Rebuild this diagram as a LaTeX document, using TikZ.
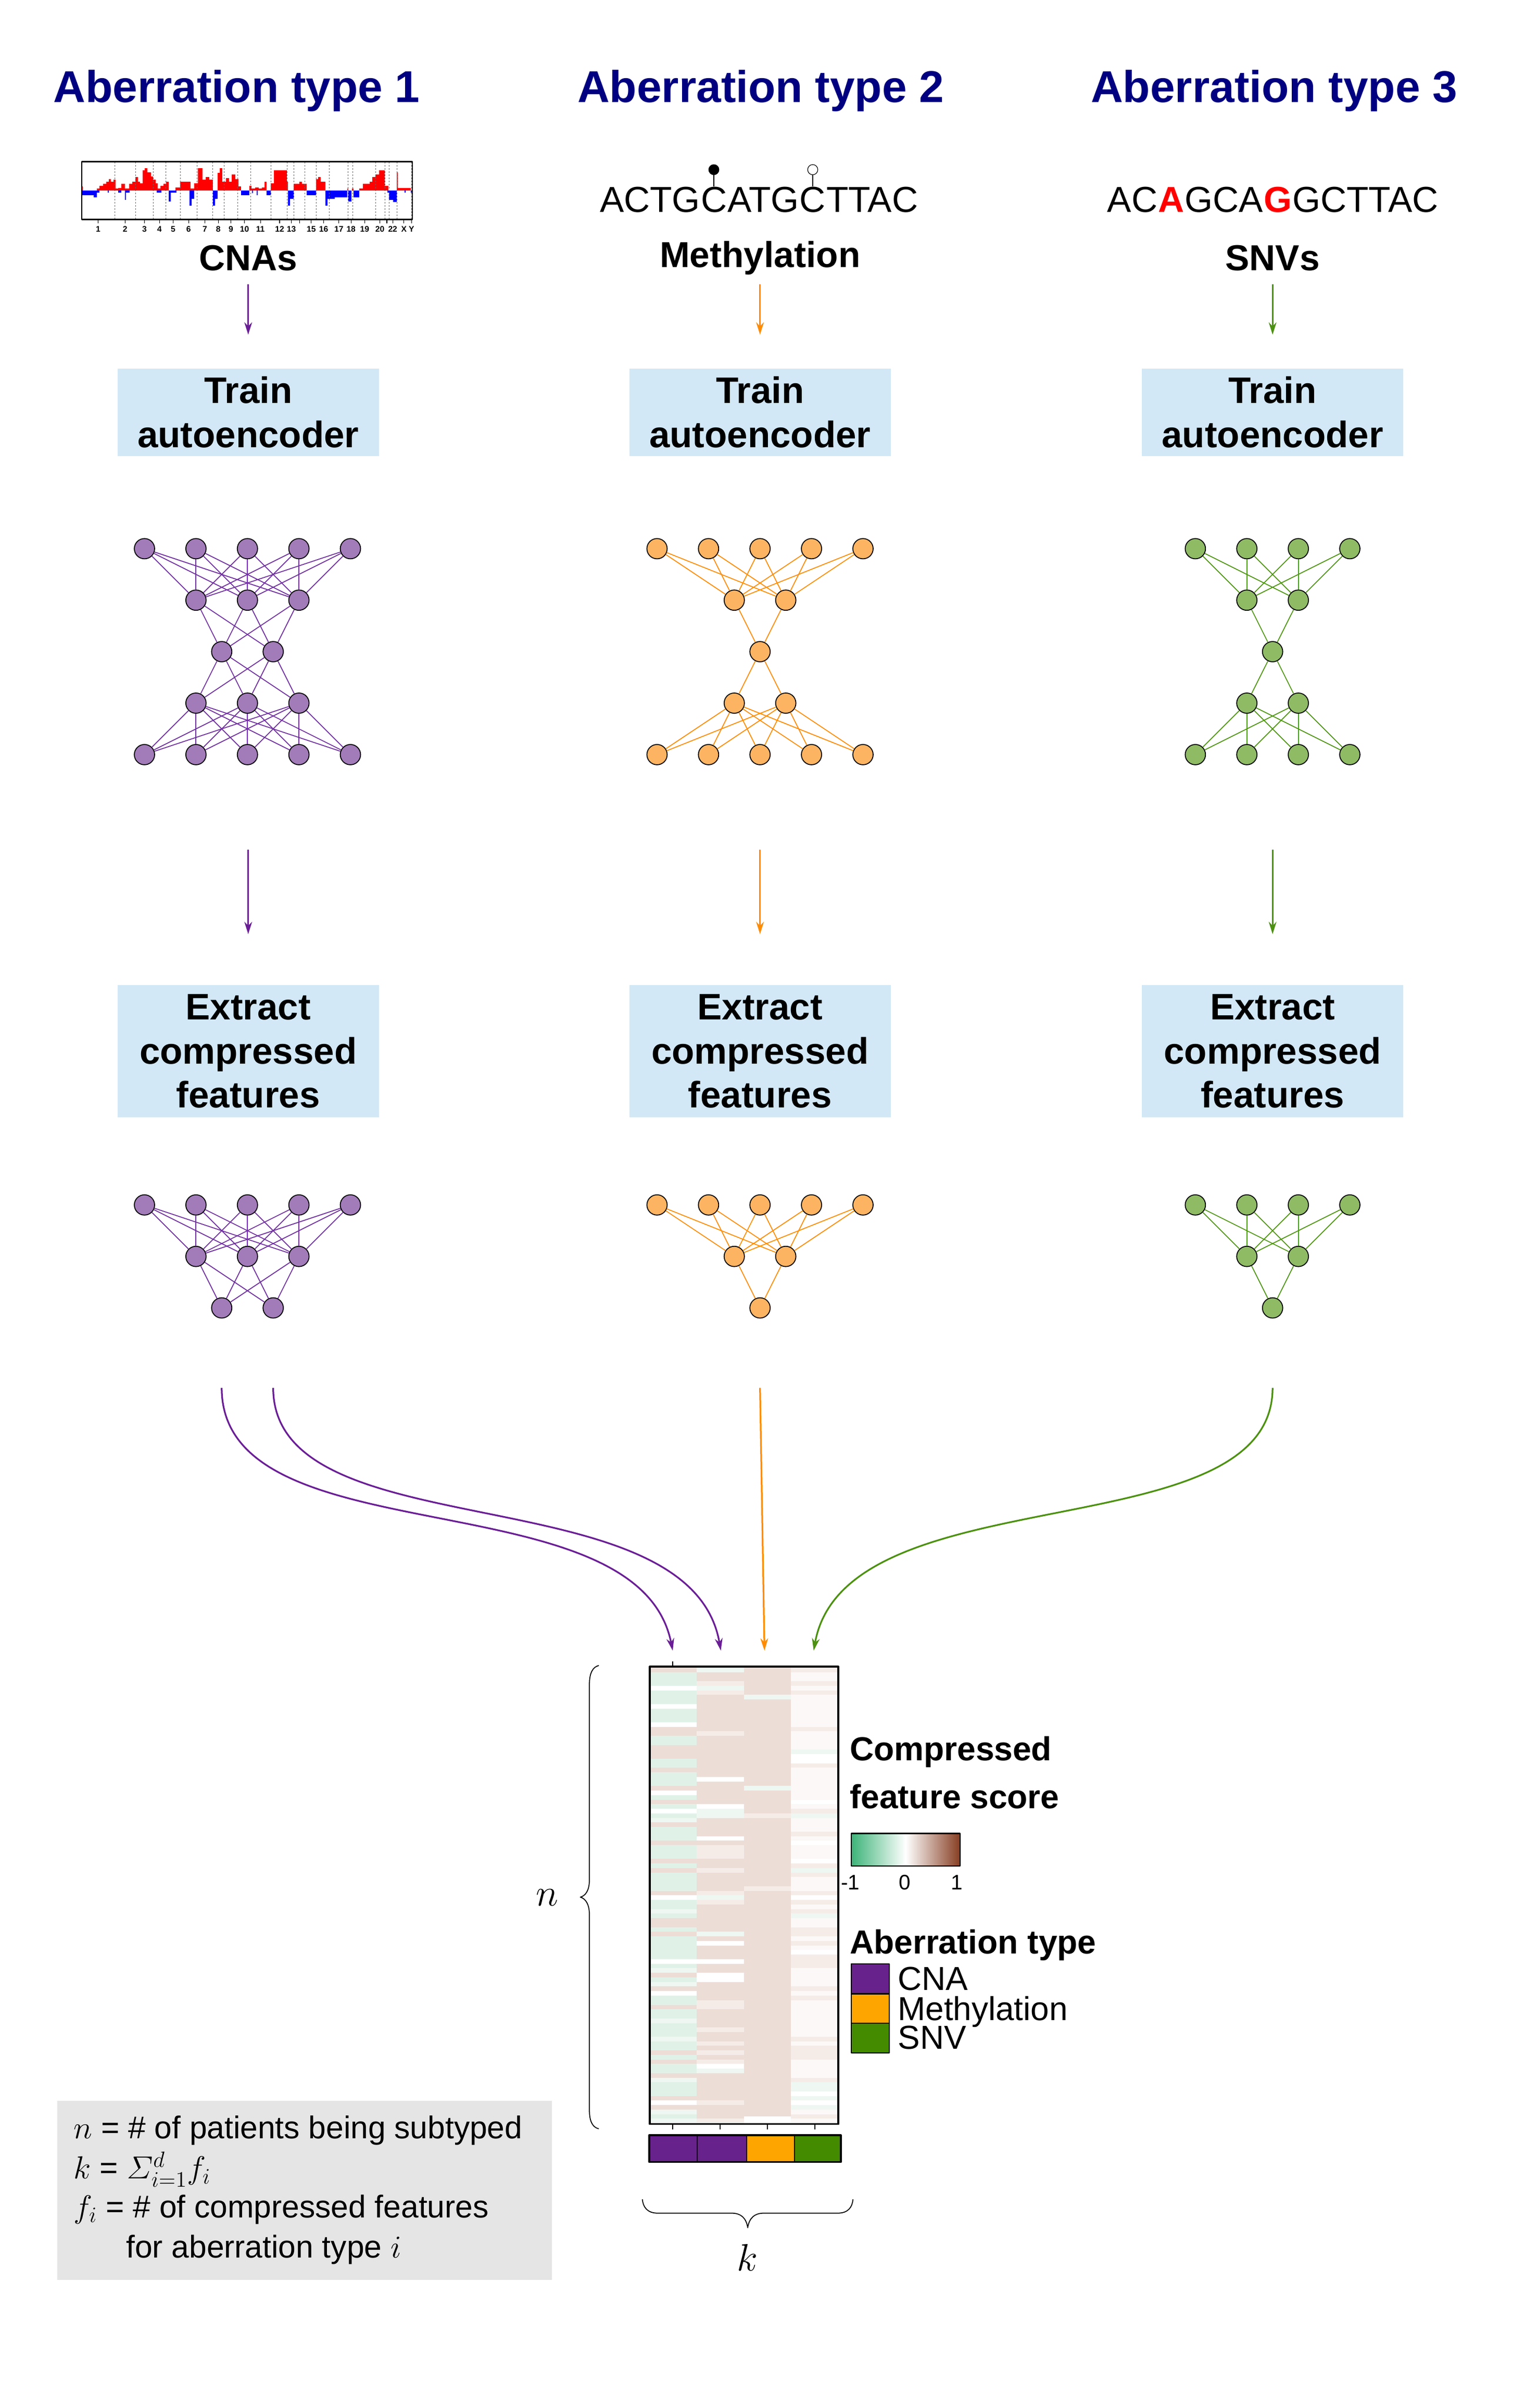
\documentclass[tikz,border=0pt]{standalone}
\usepackage{amsmath}
\usepackage{fontspec}
\setmainfont{Liberation Sans}
\usetikzlibrary{arrows.meta}

\definecolor{ttl}{RGB}{0,0,128}
\definecolor{boxblue}{RGB}{210,232,246}
\definecolor{pfill}{RGB}{162,123,185}
\definecolor{ofill}{RGB}{253,180,98}
\definecolor{gfill}{RGB}{143,187,101}
\definecolor{pedge}{RGB}{112,48,160}
\definecolor{oedge}{RGB}{255,140,0}
\definecolor{gedge}{RGB}{78,150,18}
\definecolor{arP}{RGB}{106,30,150}
\definecolor{arO}{RGB}{255,140,0}
\definecolor{arG}{RGB}{76,145,17}
\definecolor{cpur}{RGB}{104,34,139}
\definecolor{corg}{RGB}{255,165,0}
\definecolor{cgrn}{RGB}{69,139,0}
\definecolor{hc0}{RGB}{224,242,232}
\definecolor{hc1}{RGB}{237,221,215}
\definecolor{hc2}{RGB}{255,255,255}
\definecolor{hc3}{RGB}{239,247,242}
\definecolor{hc4}{RGB}{245,236,232}
\definecolor{hc5}{RGB}{251,248,247}
\definecolor{cbg}{RGB}{60,179,120}
\definecolor{cbb}{RGB}{135,62,35}
\definecolor{graybox}{RGB}{229,229,229}
\definecolor{cnared}{RGB}{255,0,0}
\definecolor{cnablue}{RGB}{0,0,255}

\tikzset{
  ttlnode/.style={font=\fontsize{29}{34}\selectfont\bfseries, text=ttl, inner sep=0pt, anchor=base},
  lblnode/.style={font=\fontsize{23.5}{28}\selectfont\bfseries, inner sep=0pt, anchor=base},
  seqnode/.style={font=\fontsize{23.5}{28}\selectfont, inner sep=0pt, anchor=base west},
  seqred/.style={seqnode, font=\fontsize{23.5}{28}\selectfont\bfseries, text=red},
  stepbox/.style={fill=boxblue, minimum width=170pt, inner sep=0pt, align=center,
    font=\fontsize{24}{28.6}\selectfont\bfseries},
  nodeP/.style={circle, draw=black, line width=0.6pt, fill=pfill, minimum size=13.2pt, inner sep=0pt},
  nodeO/.style={circle, draw=black, line width=0.6pt, fill=ofill, minimum size=13.2pt, inner sep=0pt},
  nodeG/.style={circle, draw=black, line width=0.6pt, fill=gfill, minimum size=13.2pt, inner sep=0pt},
  edgeP/.style={draw=pedge, line width=0.6pt},
  edgeO/.style={draw=oedge, line width=0.6pt},
  edgeG/.style={draw=gedge, line width=0.6pt},
  arrw/.style={-{Stealth[length=8pt,width=5pt,inset=2.5pt]}, line width=1.1pt},
  fdot/.style={circle, fill=black, draw=black, minimum size=6.6pt, inner sep=0pt, line width=0.4pt},
  odot/.style={circle, fill=white, draw=black, minimum size=6.6pt, inner sep=0pt, line width=0.4pt},
  chrlbl/.style={font=\fontsize{5.3}{6}\selectfont\bfseries, inner sep=0pt, anchor=base},
  legb/.style={font=\fontsize{21.7}{26}\selectfont\bfseries, inner sep=0pt, anchor=base west},
  legr/.style={font=\fontsize{21.6}{26}\selectfont, inner sep=0pt, anchor=base west},
  legs/.style={font=\fontsize{13.7}{16}\selectfont, inner sep=0pt, anchor=base},
  boxtxt/.style={font=\fontsize{20.5}{25}\selectfont, inner sep=0pt, anchor=base west},
  mathlbl/.style={font=\fontsize{29}{34}\selectfont, inner sep=0pt, anchor=base},
  thinline/.style={line width=0.6pt},
}

\newcommand{\netlayer}[6]{%
  \foreach \i in {1,...,#3}{%
    \node[#6] (#1-#2-\i) at ({#4+(\i-(#3+1)/2)*33.5},#5) {};
  }%
}
\newcommand{\netlink}[6]{%
  \foreach \i in {1,...,#3}{\foreach \j in {1,...,#5}{\draw[#6] (#1-#2-\i) -- (#1-#4-\j);}}%
}

\begin{document}
\begin{tikzpicture}[x=1pt, y=-1pt, line join=round]
\useasboundingbox (0,0) rectangle (1000,1566.8);

% ---------- titles ----------
\node[ttlnode] (t1) at (154,66.7) {Aberration type 1};
\node[ttlnode] (t2) at (495,66.7) {Aberration type 2};
\node[ttlnode] (t3) at (829,66.7) {Aberration type 3};

% ---------- CNA plot ----------
\begin{scope}[shift={(44.06,95.55)}, xscale=0.15234, yscale=0.1129]
  \foreach \a/\b/\c in {60/65/228, 125/135/240, 135/150/225, 150/165/212, 165/175/200, 175/185/187,
    185/195/200, 195/205/188, 205/215/240, 215/230/238, 230/245/212, 245/262/240, 262/275/212,
    275/290/200, 290/300/175, 300/310/200, 310/320/210, 320/330/135, 330/340/122, 340/355/148,
    355/365/170, 365/375/190, 375/385/210, 385/395/240, 395/410/225, 410/420/212, 420/432/200,
    460/480/235, 480/525/200, 525/540/240, 540/555/210, 555/575/122, 575/590/190, 590/605/175,
    605/620/190, 640/650/150, 650/660/122, 660/675/200, 675/690/180, 690/700/200, 700/715/160,
    715/730/185, 730/740/228, 775/785/225, 785/800/240, 800/815/235, 815/830/240, 830/840/235,
    840/850/200, 868/880/210, 880/935/135, 935/940/200, 965/990/212, 990/1000/200, 1000/1020/212,
    1061/1070/185, 1070/1080/175, 1080/1100/200, 1193/1198/240, 1215/1220/240, 1245/1260/240,
    1260/1290/212, 1290/1300/200, 1300/1315/175, 1315/1330/160, 1330/1355/135, 1355/1370/225,
    1405/1410/148, 1410/1465/238}
    {\fill[cnared] (\a,252) rectangle (\b,\c);}
  \foreach \a/\b/\c in {60/110/280, 110/125/292, 125/135/265, 170/175/265, 215/230/265, 245/250/305,
    250/265/265, 380/400/265, 432/440/315, 440/465/265, 520/530/340, 530/540/300, 620/630/340,
    630/640/300, 740/775/278, 788/792/268, 808/812/280, 850/868/278, 940/950/340, 950/965/300,
    1020/1061/278, 1100/1110/340, 1110/1140/300, 1140/1195/290, 1198/1212/315, 1220/1245/290,
    1365/1372/265, 1372/1390/305, 1390/1405/318, 1438/1442/265, 1465/1472/265}
    {\fill[cnablue] (\a,252) rectangle (\b,\c);}
  \foreach \s in {202, 290, 366, 418, 481, 552, 620, 669, 726, 781, 868, 938, 965, 1013, 1061,
    1118, 1198, 1218, 1316, 1354, 1372, 1406, 1468}
    {\draw[black!60, dash pattern=on 1pt off 1pt, line width=0.3pt] (\s,88) -- (\s,418);}
  \draw[line width=0.8pt] (60,85) rectangle (1472,418);
  \foreach \t in {130, 245, 328, 392, 450, 516, 586, 643, 697, 755, 823, 905, 955, 990, 1040,
    1093, 1158, 1210, 1268, 1333, 1363, 1388, 1436, 1468}
    {\draw[line width=0.4pt] (\t,418) -- (\t,440);}
  \foreach \t/\l in {130/1, 245/2, 328/3, 392/4, 450/5, 516/6, 586/7, 643/8, 697/9, 755/10,
    823/11, 905/12, 955/13, 1040/15, 1093/16, 1158/17, 1210/18, 1268/19, 1333/20, 1388/22,
    1436/X, 1468/Y}
    {\node[chrlbl] at (\t,490) {\l};}
\end{scope}

% ---------- data labels ----------
\node[lblnode] (cnas) at (161.5,176) {CNAs};
\node[lblnode] (meth) at (494.5,174) {Methylation};
\node[lblnode] (snvs) at (828,176) {SNVs};

% methylation sequence
\node[seqnode] (m1) at (390.1,138) {ACTG};
\node[seqnode] (m2) at (m1.base east) {C};
\node[seqnode] (m3) at (m2.base east) {ATG};
\node[seqnode] (m4) at (m3.base east) {C};
\node[seqnode] (m5) at (m4.base east) {TTAC};
\node[fdot, anchor=south] (lp1) at ([yshift=7.5pt]m2.north) {};
\node[odot, anchor=south] (lp2) at ([yshift=7.5pt]m4.north) {};
\draw[line width=0.5pt] (m2.north) -- (lp1.south);
\draw[line width=0.5pt] (m4.north) -- (lp2.south);

% SNV sequence
\node[seqnode] (s1) at (720.3,138) {AC};
\node[seqred] (s2) at (s1.base east) {A};
\node[seqnode] (s3) at (s2.base east) {GCA};
\node[seqred] (s4) at (s3.base east) {G};
\node[seqnode] (s5) at (s4.base east) {GCTTAC};

% ---------- step boxes ----------
\node[stepbox, minimum height=57pt] (tr1) at (161.5,268.25) {Train\\autoencoder};
\node[stepbox, minimum height=57pt] (tr2) at (494.5,268.25) {Train\\autoencoder};
\node[stepbox, minimum height=57pt] (tr3) at (828,268.25) {Train\\autoencoder};

\node[stepbox, minimum height=86pt] (ex1) at (161.5,684) {Extract\\compressed\\features};
\node[stepbox, minimum height=86pt] (ex2) at (494.5,684) {Extract\\compressed\\features};
\node[stepbox, minimum height=86pt] (ex3) at (828,684) {Extract\\compressed\\features};

% arrows data -> train
\draw[arrw, color=arP, shorten <=9pt, shorten >=21.8pt] (cnas.base) -- (tr1.north);
\draw[arrw, color=arO, shorten <=11pt, shorten >=21.8pt] (meth.base) -- (tr2.north);
\draw[arrw, color=arG, shorten <=9pt, shorten >=21.8pt] (snvs.base) -- (tr3.north);

% ---------- autoencoders ----------
% net A (CNA) 5-3-2-3-5
\netlayer{A}{1}{5}{161}{357}{nodeP}
\netlayer{A}{2}{3}{161}{390.5}{nodeP}
\netlayer{A}{3}{2}{161}{424}{nodeP}
\netlayer{A}{4}{3}{161}{457.5}{nodeP}
\netlayer{A}{5}{5}{161}{491}{nodeP}
\netlink{A}{1}{5}{2}{3}{edgeP}
\netlink{A}{2}{3}{3}{2}{edgeP}
\netlink{A}{3}{2}{4}{3}{edgeP}
\netlink{A}{4}{3}{5}{5}{edgeP}
% net B (Methylation) 5-2-1-2-5
\netlayer{B}{1}{5}{494.5}{357}{nodeO}
\netlayer{B}{2}{2}{494.5}{390.5}{nodeO}
\netlayer{B}{3}{1}{494.5}{424}{nodeO}
\netlayer{B}{4}{2}{494.5}{457.5}{nodeO}
\netlayer{B}{5}{5}{494.5}{491}{nodeO}
\netlink{B}{1}{5}{2}{2}{edgeO}
\netlink{B}{2}{2}{3}{1}{edgeO}
\netlink{B}{3}{1}{4}{2}{edgeO}
\netlink{B}{4}{2}{5}{5}{edgeO}
% net C (SNV) 4-2-1-2-4
\netlayer{C}{1}{4}{828}{357}{nodeG}
\netlayer{C}{2}{2}{828}{390.5}{nodeG}
\netlayer{C}{3}{1}{828}{424}{nodeG}
\netlayer{C}{4}{2}{828}{457.5}{nodeG}
\netlayer{C}{5}{4}{828}{491}{nodeG}
\netlink{C}{1}{4}{2}{2}{edgeG}
\netlink{C}{2}{2}{3}{1}{edgeG}
\netlink{C}{3}{1}{4}{2}{edgeG}
\netlink{C}{4}{2}{5}{4}{edgeG}

% arrows train -> extract
\coordinate (cm1) at (161.5,553);
\coordinate (cm2) at (494.5,553);
\coordinate (cm3) at (828,553);
\draw[arrw, color=arP, shorten >=33pt] (cm1) -- (ex1.north);
\draw[arrw, color=arO, shorten >=33pt] (cm2) -- (ex2.north);
\draw[arrw, color=arG, shorten >=33pt] (cm3) -- (ex3.north);

% ---------- encoders ----------
\netlayer{D}{1}{5}{161}{784}{nodeP}
\netlayer{D}{2}{3}{161}{817.5}{nodeP}
\netlayer{D}{3}{2}{161}{851}{nodeP}
\netlink{D}{1}{5}{2}{3}{edgeP}
\netlink{D}{2}{3}{3}{2}{edgeP}
\netlayer{E}{1}{5}{494.5}{784}{nodeO}
\netlayer{E}{2}{2}{494.5}{817.5}{nodeO}
\netlayer{E}{3}{1}{494.5}{851}{nodeO}
\netlink{E}{1}{5}{2}{2}{edgeO}
\netlink{E}{2}{2}{3}{1}{edgeO}
\netlayer{F}{1}{4}{828}{784}{nodeG}
\netlayer{F}{2}{2}{828}{817.5}{nodeG}
\netlayer{F}{3}{1}{828}{851}{nodeG}
\netlink{F}{1}{4}{2}{2}{edgeG}
\netlink{F}{2}{2}{3}{1}{edgeG}

% ---------- heatmap ----------
\pgfmathsetseed{11}
\foreach \r in {0,...,99}{%
  \pgfmathsetmacro{\ya}{1085+\r*2.965}%
  \pgfmathsetmacro{\yb}{\ya+3.1}%
  \pgfmathsetmacro{\ua}{rnd}%
  \pgfmathtruncatemacro{\ka}{\ua<0.58 ? 0 : (\ua<0.8 ? 1 : (\ua<0.9 ? 2 : 3))}%
  \pgfmathsetmacro{\ub}{rnd}%
  \pgfmathtruncatemacro{\kb}{\ub<0.68 ? 1 : (\ub<0.8 ? 4 : (\ub<0.9 ? 2 : 3))}%
  \pgfmathsetmacro{\uc}{rnd}%
  \pgfmathtruncatemacro{\kc}{\uc<0.94 ? 1 : (\uc<0.97 ? 3 : 4)}%
  \pgfmathsetmacro{\ud}{rnd}%
  \pgfmathtruncatemacro{\kd}{\ud<0.55 ? 5 : (\ud<0.75 ? 4 : (\ud<0.9 ? 2 : 3))}%
  \fill[fill=hc\ka] (423.2,\ya) rectangle (453.4,\yb);
  \fill[fill=hc\kb] (453.4,\ya) rectangle (484.0,\yb);
  \fill[fill=hc\kc] (484.0,\ya) rectangle (514.6,\yb);
  \fill[fill=hc\kd] (514.6,\ya) rectangle (544.8,\yb);
}
\fill[white] (484.0,1377) rectangle (514.6,1382);
\draw[line width=1.3pt] (422.7,1084.5) rectangle (545.5,1382) coordinate (hmse);
\node[inner sep=0pt, minimum width=122.8pt, minimum height=297.5pt] (heat) at (484.1,1233.25) {};
\draw[line width=0.8pt] (437.7,1081) -- (437.7,1084.5);
\foreach \x in {437.7, 468.5, 499.3, 530.1} {\draw[line width=0.8pt] (\x,1382) -- (\x,1385.5);}

% aberration color bar
\fill[cpur] (422.5,1389.3) rectangle (485.7,1406.7);
\fill[corg] (485.7,1389.3) rectangle (516.9,1406.7);
\fill[cgrn] (516.9,1389.3) rectangle (547,1406.7);
\draw[line width=0.6pt] (453.6,1389.3) -- (453.6,1406.7);
\draw[line width=0.6pt] (485.7,1389.3) -- (485.7,1406.7);
\draw[line width=0.6pt] (516.9,1389.3) -- (516.9,1406.7);
\draw[line width=1.3pt] (422.5,1389.3) rectangle (547,1406.7);

% ---------- arrows encoders -> heatmap ----------
\coordinate (q1) at (144.25,903);
\coordinate (q2) at (177.75,903);
\coordinate (q3) at (494.5,903);
\coordinate (q4) at (828,903);
\coordinate (h1) at (437.7,1074);
\coordinate (h2) at (469,1074);
\coordinate (h3) at (497.4,1074);
\coordinate (h4) at (529.4,1074);
\draw[arrw, color=arP] (q1) .. controls (144.25,1015) and (415,960) .. (h1);
\draw[arrw, color=arP] (q2) .. controls (177.75,1010) and (449,958) .. (h2);
\draw[arrw, color=arO] (q3) -- (h3);
\draw[arrw, color=arG] (q4) .. controls (828,1010) and (550,958) .. (h4);

% ---------- braces ----------
\draw[thinline] (389.6,1083.7) .. controls (386,1084.5) and (383.5,1088) .. (383.5,1096)
  -- (383.5,1223) .. controls (383.5,1230) and (381,1233.5) .. (377.6,1234.4)
  .. controls (381,1235.3) and (383.5,1239) .. (383.5,1246)
  -- (383.5,1373) .. controls (383.5,1381) and (386,1384.3) .. (389.6,1385.1);
\node[mathlbl] (nlab) at (356,1240) {$n$};

\draw[thinline] (417.9,1431) .. controls (418.5,1436) and (421,1440) .. (428,1440)
  -- (476,1440) .. controls (482,1440) and (485.5,1443) .. (486.5,1449.5)
  .. controls (487.5,1443) and (491,1440) .. (497,1440)
  -- (545,1440) .. controls (552,1440) and (554.5,1436) .. (555,1431);
\node[mathlbl] (klab) at (486.3,1477.5) {$k$};

% ---------- legend ----------
\node[legb] (lg1) at (552.7,1145.6) {Compressed};
\node[legb] (lg2) at (552.7,1176.8) {feature score};
\shade[left color=cbg, right color=white] (553.8,1193) rectangle (589.25,1214.2);
\shade[left color=white, right color=cbb] (589.25,1193) rectangle (624.7,1214.2);
\draw[line width=0.8pt] (553.8,1193) rectangle (624.7,1214.2);
\node[legs] (cbm) at (553.2,1229.7) {-1};
\node[legs] (cbz) at (588.8,1229.7) {0};
\node[legs] (cbp) at (622.5,1229.7) {1};

\node[legb] (lg3) at (552.7,1271.3) {Aberration type};
\fill[cpur] (553.8,1277.7) rectangle (578.7,1297.3);
\fill[corg] (553.8,1297.3) rectangle (578.7,1316.3);
\fill[cgrn] (553.8,1316.3) rectangle (578.7,1335.7);
\draw[line width=0.7pt] (553.8,1277.7) rectangle (578.7,1335.7);
\draw[line width=0.7pt] (553.8,1297.3) -- (578.7,1297.3);
\draw[line width=0.7pt] (553.8,1316.3) -- (578.7,1316.3);
\node[legr] (lc1) at (584,1295) {CNA};
\node[legr] (lc2) at (584,1314.5) {Methylation};
\node[legr] (lc3) at (584,1333.3) {SNV};

% ---------- definitions box ----------
\fill[graybox] (37.4,1367) rectangle (359,1483.4);
\node[boxtxt] (d1) at (47.8,1391.6) {$n$ = \# of patients being subtyped};
\node[boxtxt] (d2) at (47.8,1417.7) {$k$ = $\varSigma_{i=1}^{d} f_i$};
\node[boxtxt] (d3) at (47.8,1443) {$f_i$ = \# of compressed features};
\node[boxtxt] (d4) at (81.9,1469) {for aberration type $i$};

\end{tikzpicture}
\end{document}
